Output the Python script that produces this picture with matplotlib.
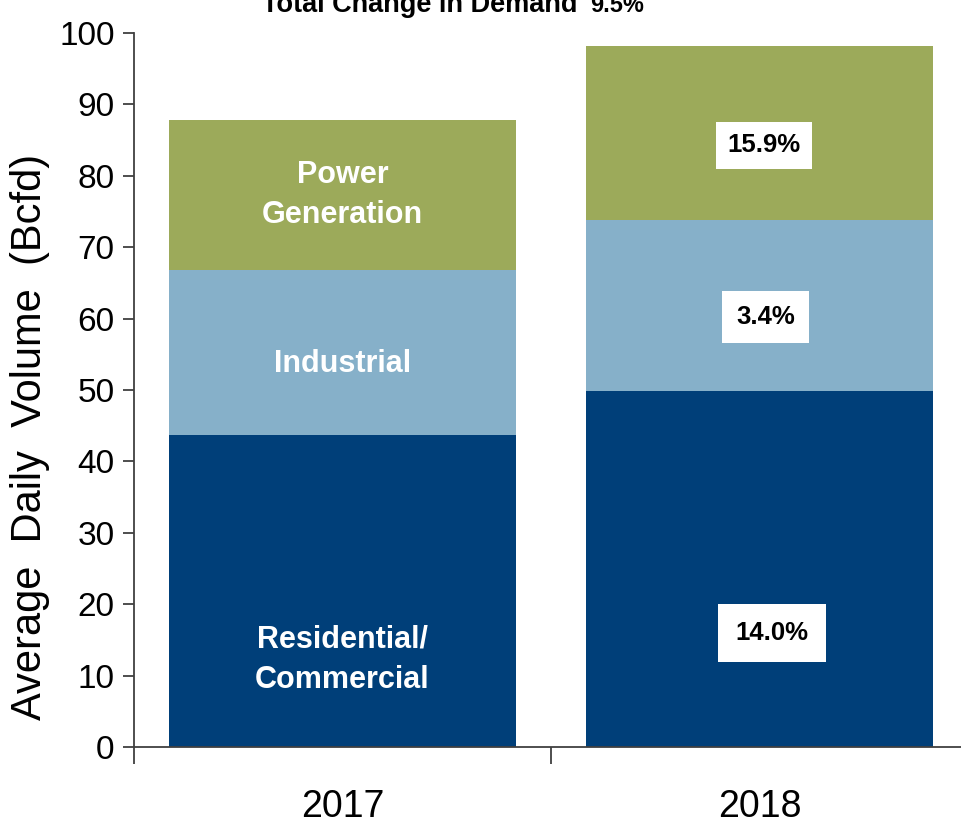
import matplotlib
matplotlib.use("Agg")
import matplotlib.pyplot as plt
import numpy as np

years = ["2017", "2018"]
residential = [43.7, 49.9]
industrial = [23.1, 23.9]
power = [21.0, 24.4]
change_labels = ["14.0%", "3.4%", "15.9%"]
total_change = "9.5%"

FONT = ['Liberation Sans', 'DejaVu Sans']

c_res = '#003F79'
c_ind = '#86B0C9'
c_pow = '#9CAA5A'

fig = plt.figure(figsize=(9.61, 8.24), dpi=100)
ax = fig.add_axes([134/961, 1-747/824, (968-134)/961, (747-33)/824])

x = np.arange(len(years))
w = 0.832
ax.bar(x, residential, w, color=c_res, zorder=2)
ax.bar(x, industrial, w, bottom=residential, color=c_ind, zorder=2)
b2 = np.array(residential) + np.array(industrial)
ax.bar(x, power, w, bottom=b2, color=c_pow, zorder=2)

ax.set_xlim(-0.5, 1.5)
ax.set_ylim(0, 100)
ax.set_yticks(np.arange(0, 101, 10))
ax.set_xticks(x)
ax.set_xticklabels(years)
ax.set_xticks([-0.5, 0.5, 1.5], minor=True)
for s in ['top', 'right']:
    ax.spines[s].set_visible(False)
for s in ['left', 'bottom']:
    ax.spines[s].set_color('#404040')
    ax.spines[s].set_linewidth(1.3)
    ax.spines[s].set_zorder(3)
ax.tick_params(axis='y', direction='out', length=8, width=1.3, color='#404040', pad=6)
ax.tick_params(axis='x', which='major', length=0, pad=30)
ax.tick_params(axis='x', which='minor', length=12, width=1.3, color='#404040')
for lab in ax.get_yticklabels():
    lab.set_fontfamily(FONT)
    lab.set_fontsize(24)
for lab in ax.get_xticklabels():
    lab.set_fontfamily(FONT)
    lab.set_fontsize(27)

ax.set_ylabel("Average  Daily  Volume  (Bcfd)", fontsize=30, family=FONT)
ax.yaxis.set_label_coords(-84/834, (747-437)/714, transform=ax.transAxes)

# category labels in 2017 bar
lab_kw = dict(ha='center', va='center', color='white', fontsize=22,
              fontweight='bold', family=FONT, linespacing=1.45, zorder=4)
ax.text(x[0], residential[0] * 0.28, "Residential/\nCommercial", **lab_kw)
ax.text(x[0], residential[0] + industrial[0] * 0.43, "Industrial", **lab_kw)
ax.text(x[0], b2[0] + power[0] * 0.5, "Power\nGeneration", **lab_kw)

# change labels in 2018 bar
pc_kw = dict(ha='center', va='center', color='black', fontsize=18.5,
             fontweight='bold', family=FONT, zorder=4)
pads = [0.68, 0.55, 0.45]
ys = [residential[1] * 0.32, residential[1] + industrial[1] * 0.43, b2[1] + power[1] * 0.43]
dx = [0.03, 0.015, 0.01]
for lbl, yv, d, p in zip(change_labels, ys, dx, pads):
    ax.text(x[1] + d, yv, lbl, bbox=dict(boxstyle=f'square,pad={p}', facecolor='white',
                                         edgecolor='none'), **pc_kw)

fig.text(420/961, 1 - 12/824, "Total Change in Demand", ha='center', va='baseline',
         fontsize=19.5, fontweight='bold', family=FONT)
fig.text(590/961, 1 - 12/824, total_change, ha='left', va='baseline',
         fontsize=17, fontweight='bold', family=FONT)

fig.savefig("out.png", dpi=100)
